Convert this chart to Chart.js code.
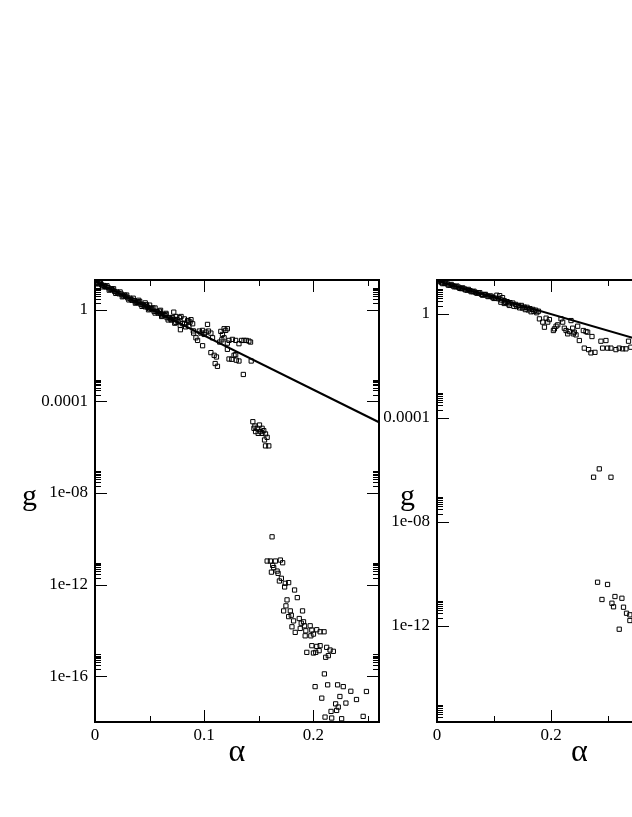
<!DOCTYPE html>
<html>
<head>
<meta charset="utf-8">
<script src="https://cdn.jsdelivr.net/npm/chart.js@4.4.1/dist/chart.umd.min.js"></script>
<style>
  html, body { margin: 0; padding: 0; background: #fff; overflow: hidden; }
  #wrap { position: relative; width: 632px; height: 817px; overflow: hidden; background: #fff; }
  #leftChart { position: absolute; left: 0; top: 0; }
  #rightChart { position: absolute; left: 384px; top: 0; }
</style>
</head>
<body>
<div id="wrap">
  <canvas id="leftChart" width="384" height="817"></canvas>
  <canvas id="rightChart" width="420" height="817"></canvas>
</div>
<script>
// === DATA: LEFT PANEL ===
var leftAlpha = [
  0.002, 0.003, 0.004, 0.006, 0.008, 0.009, 0.010, 0.012, 0.014, 0.015,
  0.016, 0.018, 0.020, 0.021, 0.022, 0.024, 0.026, 0.027, 0.028, 0.030,
  0.032, 0.033, 0.034, 0.036, 0.038, 0.039, 0.040, 0.042, 0.044, 0.045,
  0.046, 0.048, 0.050, 0.051, 0.052, 0.054, 0.056, 0.057, 0.058, 0.060,
  0.062, 0.063, 0.064, 0.066, 0.068, 0.069, 0.070, 0.072, 0.074, 0.076,
  0.080, 0.083, 0.086, 0.090, 0.040, 0.046, 0.050, 0.055, 0.060, 0.065,
  0.001, 0.005, 0.007, 0.011, 0.013, 0.017, 0.019, 0.023, 0.025, 0.029,
  0.031, 0.035, 0.037, 0.041, 0.043, 0.047, 0.049, 0.053, 0.055, 0.059,
  0.061, 0.065, 0.067, 0.071, 0.073, 0.075, 0.078, 0.082,
  // scatter off the band
  0.0721, 0.0742, 0.0773, 0.0788, 0.0818, 0.0848, 0.0870, 0.0894, 0.0879, 0.0858,
  0.0782, 0.1030, 0.0903, 0.0924, 0.0939, 0.0955, 0.0970, 0.0985, 0.1000, 0.1015,
  0.1039, 0.1061, 0.1076, 0.0985, 0.1152, 0.1167, 0.1182, 0.1197, 0.1212, 0.1142,
  0.1161, 0.1182, 0.1212, 0.1227, 0.1258, 0.1288, 0.1318, 0.1342, 0.1364, 0.1385,
  0.1409, 0.1424, 0.1061, 0.1091, 0.1112, 0.1100, 0.1121, 0.1227, 0.1252, 0.1273,
  0.1288, 0.1294, 0.1318, 0.1430, 0.1358, 0.1212,
  // cluster near 1e-5
  0.1445, 0.1464, 0.1485, 0.1506, 0.1530, 0.1545, 0.1515, 0.1470, 0.1494, 0.1561,
  0.1576, 0.1561, 0.1591, 0.1455, 0.1530, 0.1552,
  // lower tail
  0.1621, 0.1576, 0.1606, 0.1652, 0.1697, 0.1718, 0.1627, 0.1636, 0.1615, 0.1667,
  0.1676, 0.1706, 0.1688, 0.1742, 0.1773, 0.1736, 0.1827, 0.1852, 0.1758, 0.1748,
  0.1727, 0.1788, 0.1797, 0.1773, 0.1900, 0.1818, 0.1803, 0.1870, 0.1888, 0.1909,
  0.1918, 0.1833, 0.1879, 0.1930, 0.1970, 0.1985, 0.1924, 0.1976, 0.2030, 0.2061,
  0.2097, 0.2000, 0.1985, 0.2030, 0.2061, 0.1939, 0.2000, 0.2021, 0.2052, 0.2121,
  0.2152, 0.2182, 0.2112, 0.2136, 0.2100, 0.2015, 0.2130, 0.2221, 0.2273, 0.2076,
  0.2242, 0.2342, 0.2394, 0.2485, 0.2297, 0.2203, 0.2227, 0.2212, 0.2161, 0.2106,
  0.2167, 0.2258, 0.2455
];
var leftG = [
  15.5, 13.5, 14.5, 12.3, 11.5, 10.5, 10, 9.3, 7.9, 8.3,
  7.4, 6.3, 6.0, 5.4, 5.0, 4.9, 4.0, 4.4, 3.9, 3.3,
  3.2, 2.8, 2.6, 2.5, 2.1, 2.24, 2.0, 1.74, 1.66, 1.51,
  1.35, 1.32, 1.10, 1.2, 1.07, 0.87, 0.85, 0.81, 0.71, 0.69,
  0.55, 0.62, 0.56, 0.45, 0.46, 0.40, 0.355, 0.38, 0.28, 0.30,
  0.25, 0.18, 0.19, 0.12, 2.6, 2.0, 1.6, 1.2, 0.95, 0.7,
  14.1, 15.8, 10.0, 11.2, 7.2, 8.3, 5.2, 6.0, 3.7, 4.4,
  2.7, 3.2, 1.95, 2.3, 1.41, 1.66, 1.0, 1.2, 0.72, 0.87,
  0.51, 0.63, 0.36, 0.46, 0.26, 0.37, 0.21, 0.24,
  0.79, 0.51, 0.45, 0.51, 0.40, 0.34, 0.29, 0.245, 0.37, 0.32,
  0.135, 0.23, 0.096, 0.060, 0.046, 0.118, 0.096, 0.126, 0.084, 0.106,
  0.118, 0.096, 0.060, 0.027, 0.114, 0.084, 0.149, 0.126, 0.149, 0.039,
  0.049, 0.060, 0.035, 0.046, 0.051, 0.046, 0.033, 0.046, 0.046, 0.046,
  0.043, 0.039, 0.0135, 0.0103, 0.0087, 0.0045, 0.0034, 0.0071, 0.0069, 0.0103,
  0.011, 0.0063, 0.0058, 0.0058, 0.0015, 0.0188,
  1.3e-5, 8.4e-6, 6.7e-6, 9.3e-6, 6.7e-6, 5.3e-6, 4.8e-6, 4.8e-6, 4.0e-6, 3.8e-6,
  2.7e-6, 1.14e-6, 1.14e-6, 6.7e-6, 4.0e-6, 2.07e-6,
  1.22e-10, 1.07e-11, 1.07e-11, 1.07e-11, 1.18e-11, 9.0e-12, 6.9e-12, 5.5e-12, 3.5e-12, 3.9e-12,
  3.1e-12, 1.88e-12, 1.44e-12, 1.14e-12, 1.22e-12, 7.9e-13, 5.8e-13, 2.7e-13, 2.15e-13, 1.18e-13,
  7.1e-14, 7.1e-14, 4.6e-14, 4.0e-14, 7.1e-14, 2.6e-14, 1.44e-14, 3.3e-14, 2.07e-14, 2.37e-14,
  1.59e-14, 8.2e-15, 1.22e-14, 9.6e-15, 1.59e-14, 1.03e-14, 5.8e-15, 5.8e-15, 1.07e-14, 8.7e-15,
  8.7e-15, 6.9e-15, 2.15e-15, 2.0e-15, 2.15e-15, 1.1e-15, 1.03e-15, 1.1e-15, 1.3e-15, 1.82e-15,
  1.39e-15, 1.22e-15, 6.7e-16, 7.9e-16, 1.26e-16, 3.5e-17, 4.2e-17, 4.2e-17, 3.5e-17, 1.1e-17,
  1.3e-17, 2.2e-17, 9.6e-18, 2.15e-17, 6.7e-18, 6.2e-18, 4.5e-18, 3.2e-18, 2.9e-18, 1.64e-18,
  1.49e-18, 1.39e-18, 1.76e-18
];
var leftFitAlpha = [0, 0.26];
var leftFitG = [17.5, 1.23e-5];

var leftXTickValues = [0, 0.1, 0.2];
var leftXTickLabels = ['0', '0.1', '0.2'];
var leftXMinor = [0.05, 0.15, 0.25];
var leftYTickValues = [1e-16, 1e-12, 1e-8, 1e-4, 1];
var leftYTickLabels = ['1e-16', '1e-12', '1e-08', '0.0001', '1'];

// === DATA: RIGHT PANEL ===
var rightAlpha = [
  0.003, 0.008, 0.013, 0.018, 0.023, 0.028, 0.033, 0.038, 0.043, 0.048,
  0.053, 0.058, 0.063, 0.068, 0.073, 0.078, 0.083, 0.088, 0.093, 0.098,
  0.103, 0.108, 0.113, 0.118, 0.123, 0.128, 0.133, 0.138, 0.143, 0.148,
  0.153, 0.158, 0.163, 0.168, 0.173, 0.178, 0.105, 0.110, 0.115, 0.112,
  0.118, 0.127, 0.135, 0.145, 0.155, 0.165,
  0.005, 0.010, 0.015, 0.020, 0.025, 0.030, 0.035, 0.040, 0.045, 0.050,
  0.055, 0.060, 0.065, 0.070, 0.075, 0.080, 0.085, 0.090, 0.095, 0.100,
  0.120, 0.125, 0.140, 0.150, 0.160, 0.170, 0.175,
  0.1797, 0.1885, 0.1855, 0.1943, 0.1914, 0.1972, 0.2060, 0.2089, 0.2118, 0.2042,
  0.2176, 0.2205, 0.2234, 0.2264, 0.2293, 0.2322, 0.2351, 0.2380, 0.2409, 0.2439,
  0.2392, 0.2468, 0.2497, 0.2567, 0.2614, 0.2643, 0.2719, 0.2584, 0.2660, 0.2701,
  0.2771, 0.2876, 0.2964, 0.2905, 0.2993, 0.3051, 0.3139, 0.3197, 0.3255, 0.3314,
  0.3360, 0.3401,
  0.2747, 0.2847, 0.3052, 0.2817, 0.2992, 0.2894, 0.3122, 0.3244, 0.3069, 0.3097,
  0.3272, 0.3325, 0.3384, 0.3384, 0.3197
];
var rightG = [
  17.4, 15.8, 14.8, 14.1, 12.6, 12.0, 11.0, 10.5, 9.3, 9.1,
  8.1, 7.8, 7.1, 6.6, 6.3, 5.6, 5.5, 4.9, 4.8, 4.2,
  4.0, 3.8, 3.4, 3.2, 2.95, 2.7, 2.6, 2.3, 2.1, 2.1,
  1.82, 1.78, 1.58, 1.48, 1.38, 1.26, 5.2, 5.0, 4.2, 2.8,
  2.5, 2.1, 1.95, 1.7, 1.45, 1.2,
  19.0, 14.5, 15.8, 12.6, 13.5, 11.0, 11.7, 9.5, 10.0, 8.3,
  8.7, 7.1, 7.4, 6.2, 6.5, 5.2, 5.6, 4.6, 4.8, 3.9,
  2.75, 2.4, 1.9, 1.66, 1.41, 1.23, 1.1,
  0.64, 0.306, 0.48, 0.48, 0.68, 0.60, 0.264, 0.334, 0.377, 0.228,
  0.64, 0.48, 0.28, 0.228, 0.17, 0.208, 0.55, 0.28, 0.197, 0.155,
  0.17, 0.334, 0.094, 0.228, 0.208, 0.197, 0.134, 0.048, 0.042, 0.0315,
  0.033, 0.0885, 0.094, 0.048, 0.048, 0.048, 0.042, 0.048, 0.045, 0.045,
  0.0885, 0.052,
  5.2e-7, 1.09e-6, 5.2e-7, 4.75e-11, 3.9e-11, 1.03e-11, 1.34e-11, 1.15e-11, 7.4e-12, 5.4e-12,
  5.2e-12, 3.05e-12, 2.65e-12, 1.6e-12, 7.4e-13
];
var rightFitAlpha = [0, 0.5];
var rightFitG = [18.3, 0.0121];

var rightXTickValues = [0, 0.2, 0.4];
var rightXTickLabels = ['0', '0.2', '0.4'];
var rightXMinor = [0.1, 0.3, 0.5];
var rightYTickValues = [1e-12, 1e-8, 1e-4, 1];
var rightYTickLabels = ['1e-12', '1e-08', '0.0001', '1'];

// minor log ticks sit at 2..9 times each decade mark
var minorBases = [1e-16, 1e-12, 1e-8, 1e-4, 1];
var minorFactors = [2, 3, 4, 5, 6, 7, 8, 9];

var SERIF = "'Liberation Serif', 'Times New Roman', Times, serif";

// === PLUGIN: frame with inward ticks on all four sides, upright "g" ===
var frameTicks = {
  id: 'frameTicks',
  afterDraw: function(chart, args, opts) {
    var ctx = chart.ctx, a = chart.chartArea;
    var xs = chart.scales.x, ys = chart.scales.y;
    ctx.save();
    ctx.strokeStyle = '#000';
    ctx.lineWidth = 1;
    ctx.beginPath();

    function yTick(v, len) {
      var p = ys.getPixelForValue(v);
      if (p < a.top + 1 || p > a.bottom - 1) return;
      p = Math.round(p) + 0.5;
      ctx.moveTo(a.left, p); ctx.lineTo(a.left + len, p);
      ctx.moveTo(a.right, p); ctx.lineTo(a.right - len, p);
    }
    function xTick(v, len) {
      var p = xs.getPixelForValue(v);
      if (p < a.left + 1 || p > a.right - 1) return;
      p = Math.round(p) + 0.5;
      ctx.moveTo(p, a.bottom); ctx.lineTo(p, a.bottom - len);
      ctx.moveTo(p, a.top); ctx.lineTo(p, a.top + len);
    }

    opts.yMajor.forEach(function(v) { yTick(v, 12); });
    minorBases.forEach(function(b) {
      minorFactors.forEach(function(f) { yTick(b * f, 6); });
    });
    opts.xMajor.forEach(function(v) { xTick(v, 12); });
    opts.xMinor.forEach(function(v) { xTick(v, 6); });
    ctx.stroke();

    ctx.lineWidth = 2;
    ctx.strokeRect(a.left, a.top, a.right - a.left, a.bottom - a.top);

    ctx.fillStyle = '#000';
    ctx.font = '30px ' + SERIF;
    ctx.textAlign = 'left';
    ctx.textBaseline = 'alphabetic';
    ctx.fillText('g', opts.gX, 505);
    ctx.restore();
  }
};

function makePanel(canvasId, cfg) {
  var ctx = document.getElementById(canvasId).getContext('2d');
  var tickFont = { family: SERIF, size: 17 };
  return new Chart(ctx, {
    type: 'scatter',
    data: {
      datasets: [{
        data: cfg.fitAlpha.map(function(a, i) { return { x: a, y: cfg.fitG[i] }; }),
        showLine: true, borderColor: '#000', borderWidth: 2, pointRadius: 0, fill: false
      }, {
        data: cfg.alpha.map(function(a, i) { return { x: a, y: cfg.g[i] }; }),
        showLine: false, pointStyle: 'rect', pointRadius: 3, borderWidth: 1,
        borderColor: '#000', backgroundColor: 'rgba(0,0,0,0)'
      }]
    },
    plugins: [frameTicks],
    options: {
      responsive: false, animation: false, devicePixelRatio: 1,
      layout: { padding: { top: 280, left: 0, right: cfg.padRight, bottom: 0 } },
      plugins: {
        legend: { display: false }, tooltip: { enabled: false },
        frameTicks: { yMajor: cfg.yTicks, xMajor: cfg.xTicks, xMinor: cfg.xMinor, gX: cfg.gX }
      },
      scales: {
        x: {
          type: 'linear', min: 0, max: cfg.xMax,
          grid: { display: false, drawTicks: false }, border: { display: false },
          afterBuildTicks: function(s) { s.ticks = cfg.xTicks.map(function(v) { return { value: v }; }); },
          afterFit: function(s) { s.height = 95; },
          ticks: {
            padding: 3, autoSkip: false, maxRotation: 0, color: '#000', font: tickFont,
            callback: function(v, i) { return cfg.xLabels[i]; }
          },
          title: { display: true, text: 'α', color: '#000', font: { family: SERIF, size: 32 }, padding: { top: 0, bottom: 45 } }
        },
        y: {
          type: 'logarithmic', min: cfg.yMin, max: 20,
          grid: { display: false, drawTicks: false }, border: { display: false },
          afterBuildTicks: function(s) { s.ticks = cfg.yTicks.map(function(v) { return { value: v }; }); },
          afterFit: function(s) { s.width = cfg.yWidth; },
          ticks: {
            padding: 7, autoSkip: false, color: '#000', font: tickFont,
            callback: function(v, i) { return cfg.yLabels[i]; }
          }
        }
      }
    }
  });
}

makePanel('leftChart', {
  alpha: leftAlpha, g: leftG, fitAlpha: leftFitAlpha, fitG: leftFitG,
  xMax: 0.26, xTicks: leftXTickValues, xLabels: leftXTickLabels, xMinor: leftXMinor,
  yMin: 1e-18, yTicks: leftYTickValues, yLabels: leftYTickLabels,
  yWidth: 95, padRight: 4, gX: 22
});

makePanel('rightChart', {
  alpha: rightAlpha, g: rightG, fitAlpha: rightFitAlpha, fitG: rightFitG,
  xMax: 0.5, xTicks: rightXTickValues, xLabels: rightXTickLabels, xMinor: rightXMinor,
  yMin: 2e-16, yTicks: rightYTickValues, yLabels: rightYTickLabels,
  yWidth: 53, padRight: 82, gX: 16
});
</script>
</body>
</html>
